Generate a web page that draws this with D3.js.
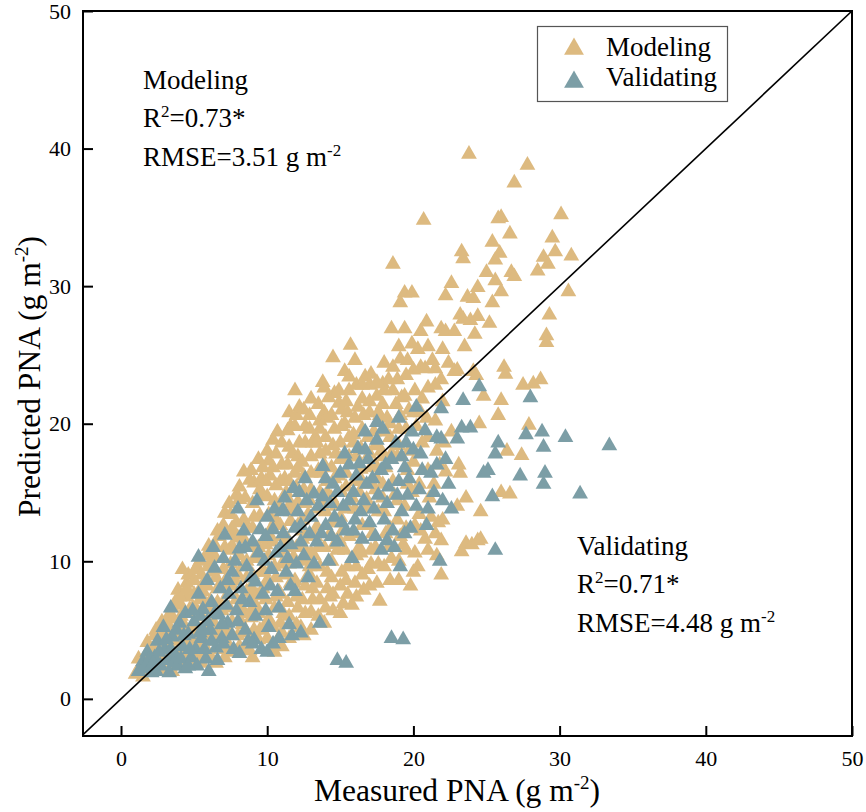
<!DOCTYPE html>
<html><head><meta charset="utf-8">
<script src="https://cdn.jsdelivr.net/npm/d3@7"></script>
<style>
body{margin:0;background:#fff;}
text{font-family:"Liberation Serif","Times New Roman",serif;fill:#000;}
</style>
</head><body>
<svg id="chart" width="866" height="812"></svg>
<script>
const xTicks = [0, 10, 20, 30, 40, 50];
const yTicks = [0, 10, 20, 30, 40, 50];
const seriesNames = ["Modeling", "Validating"];

const modeling = [
[1.0,1.8],[1.3,2.3],[1.6,3.0],[1.2,2.9],[1.9,2.1],[2.2,3.6],[2.5,2.5],[1.8,4.1],[2.7,4.4],[2.9,3.1],[2.4,5.0],[3.0,2.0],[1.5,1.6],[2.0,3.2],[2.8,5.6],[3.1,4.8],
[2.3,4.6],[3.2,3.4],[3.6,5.8],[2.6,3.5],
[3.3,6.1],[3.5,3.5],[3.7,7.0],[3.9,7.9],[4.0,2.6],[4.2,5.4],[4.4,4.2],[4.5,8.4],[4.7,6.5],[4.8,3.0],[3.4,5.0],[3.8,4.5],[4.1,6.8],[4.6,9.0],[5.0,7.6],[5.0,5.1],[3.6,2.4],[4.3,3.4],[4.9,2.5],
[4.5,7.4],[5.2,6.4],[5.6,3.1],[4.2,9.4],[5.8,6.9],[4.9,4.2],
[5.2,9.6],[5.3,3.8],[5.5,6.0],[5.6,8.3],[5.8,10.4],[5.9,4.6],[6.0,11.1],[6.1,7.1],[6.2,2.9],[6.3,9.2],[6.4,5.4],[6.6,8.0],[6.7,11.8],[6.8,3.6],[6.9,6.4],[5.4,7.2],[5.7,5.3],[6.5,10.2],[7.0,9.4],[7.0,12.6],[6.0,3.3],[5.1,4.2],
[6.3,6.6],[7.2,8.7],[6.6,4.5],[7.4,5.0],[6.1,9.9],[7.6,11.1],[7.1,13.5],
[7.2,4.2],[7.3,7.6],[7.4,10.8],[7.5,13.4],[7.6,5.6],[7.8,8.6],[7.9,14.8],[8.0,11.7],[8.1,3.8],[8.2,6.7],[8.3,9.6],[8.4,13.0],[8.5,4.8],[8.6,7.8],[8.7,11.0],[8.8,15.9],[8.9,5.9],[9.0,9.0],[9.0,12.4],[9.0,14.2],[7.7,12.0],[8.4,16.5],[7.1,3.0],[8.8,3.5],
[8.1,14.5],[8.6,10.0],[9.3,7.5],[9.8,9.2],[8.3,5.4],[9.6,14.8],[9.1,15.7],[8.9,8.1],
[9.2,6.8],[9.3,10.4],[9.4,4.3],[9.5,13.3],[9.6,16.0],[9.7,8.0],[9.8,11.6],[9.9,5.4],[10.0,14.7],[10.1,17.3],[10.2,9.4],[10.3,3.8],[10.4,12.6],[10.4,18.8],[10.5,6.6],[10.6,15.5],[10.7,10.6],[10.8,7.8],[10.9,13.8],[11.0,17.0],[11.0,4.8],[9.4,17.4],[10.2,16.2],[11.0,11.8],
[10.1,12.0],[10.6,8.8],[11.3,11.0],[11.6,14.2],[10.9,5.5],[11.8,8.4],[11.2,16.0],[10.7,19.4],[11.5,18.3],
[11.2,9.0],[11.3,15.0],[11.4,19.5],[11.5,6.0],[11.6,12.9],[11.7,17.8],[11.8,10.3],[11.9,22.4],[12.0,7.4],[12.1,14.3],[12.2,18.6],[12.3,5.2],[12.4,11.6],[12.5,16.2],[12.6,19.8],[12.7,8.8],[12.8,13.4],[12.9,20.6],[13.0,6.3],[13.0,15.2],[13.0,17.6],[11.5,20.8],[12.2,21.2],[11.9,16.4],[12.5,10.0],
[12.4,13.0],[12.9,9.6],[13.3,11.8],[12.1,16.8],[13.6,17.8],[13.1,8.0],[12.6,6.2],[13.9,20.8],
[13.2,10.4],[13.3,19.0],[13.4,12.5],[13.5,21.4],[13.6,19.6],[13.6,7.2],[13.7,16.4],[13.8,14.2],[13.9,5.5],[14.0,18.0],[14.1,9.2],[14.2,21.9],[14.3,12.0],[14.4,16.8],[14.5,6.4],[14.6,19.6],[14.7,14.0],[14.8,10.8],[14.9,21.5],[15.0,17.4],[15.0,8.2],[15.3,23.8],[14.5,24.8],[13.8,23.0],[14.3,7.4],
[14.1,15.0],[14.7,17.8],[15.3,10.8],[15.8,14.6],[14.4,8.8],[15.6,19.0],[15.1,21.0],[14.9,12.8],
[15.2,12.3],[15.3,20.0],[15.4,15.4],[15.5,9.6],[15.6,22.4],[15.7,25.7],[15.8,6.8],[15.9,18.6],[16.0,13.8],[16.1,7.4],[16.2,21.2],[16.3,11.0],[16.4,16.7],[16.5,19.6],[16.6,7.9],[16.7,23.4],[16.8,14.5],[16.9,9.4],[17.0,20.8],[17.0,17.8],[17.0,22.8],[15.2,6.9],[16.0,24.6],[16.5,12.6],
[16.3,15.0],[16.9,12.6],[17.4,17.0],[17.1,10.8],[16.5,21.8],[17.7,20.6],[16.1,9.6],[17.9,15.6],
[17.2,12.0],[17.3,19.4],[17.4,15.2],[17.5,22.0],[17.6,9.8],[17.7,7.1],[17.8,18.0],[17.9,22.9],[18.0,13.6],[18.1,16.8],[18.2,20.4],[18.3,11.0],[18.4,8.6],[18.5,26.9],[18.6,24.1],[18.6,31.6],[18.7,14.8],[18.8,21.4],[18.9,17.6],[19.0,10.0],[19.1,24.7],[19.1,28.8],[19.4,29.5],[19.4,26.9],[19.0,19.6],[18.3,23.2],
[18.4,19.0],[19.2,21.9],[18.0,22.4],[19.7,18.0],[18.9,13.0],[19.3,11.2],
[19.5,23.5],[19.5,12.4],[19.6,15.6],[19.7,21.0],[19.8,8.2],[19.9,29.5],[20.0,23.9],[20.0,17.2],[20.1,10.6],[20.2,19.8],[20.3,25.4],[20.4,13.4],[20.5,24.1],[20.5,26.7],[20.6,21.8],[20.7,34.8],[20.8,24.0],[20.8,11.6],[20.9,27.4],[21.0,16.6],[21.0,19.0],[20.3,9.6],[21.0,22.6],
[21.2,13.2],[21.3,24.6],[21.5,20.2],[21.6,10.4],[21.7,12.8],[21.8,17.0],[21.9,26.9],[21.9,11.5],[21.9,9.0],[22.0,21.6],[22.2,26.7],[22.2,29.3],[22.2,16.5],[22.4,24.4],[22.6,30.2],[22.6,19.4],[22.8,23.8],[22.8,26.7],[23.0,23.9],[23.0,14.0],[21.5,22.8],
[23.1,17.0],[23.2,16.4],[23.2,27.9],[23.3,10.7],[23.3,32.5],[23.4,32.0],[23.4,27.6],[23.5,25.6],[23.6,14.6],[23.6,11.3],[23.7,29.2],[23.8,39.6],[23.9,27.5],[24.0,11.2],[24.1,29.1],[24.1,23.8],[24.2,26.5],[24.3,23.5],[24.4,29.9],[24.4,27.8],[24.4,11.5],[24.6,13.6],[24.6,11.6],[24.8,22.0],[25.0,31.0],[24.5,20.0],
[25.2,27.3],[25.4,33.2],[25.4,28.8],[25.6,30.4],[25.6,31.9],[25.8,34.9],[25.8,20.6],[25.9,32.4],[26.0,35.0],[26.0,29.6],[26.0,21.7],[26.0,15.0],[26.2,24.1],[26.3,23.6],[26.6,33.8],[26.6,14.9],[26.7,31.0],[26.9,37.5],[26.9,30.7],[26.4,18.0],
[27.4,17.7],[27.5,22.8],[27.8,38.8],[27.9,19.9],[28.2,22.9],[28.5,31.1],[28.7,23.2],[28.9,32.1],[29.1,26.4],[29.1,25.9],[29.2,31.6],[29.3,27.9],[29.5,33.5],[29.7,32.5],[30.1,35.2],[30.6,29.6],[30.8,32.2],
[3.0,2.8],[2.9,4.2],[3.1,5.6],[3.5,2.0],[3.4,3.0],[3.6,4.2],[3.5,6.6],[4.0,3.6],[3.9,4.8],[4.1,6.0],[4.0,7.4],
[4.5,2.8],[4.4,5.2],[4.6,6.2],[4.5,8.0],[5.0,3.2],[5.1,4.6],[4.9,6.6],[5.0,8.6],[5.1,9.4],
[5.5,2.6],[5.4,5.0],[5.6,7.8],[5.5,9.0],[5.4,10.0],[6.0,4.2],[6.1,6.0],[5.9,8.2],[6.0,9.6],[6.2,10.6],
[6.5,2.6],[6.4,4.8],[6.6,7.0],[6.5,8.8],[6.4,11.2],[6.6,12.2],[7.0,3.8],[7.1,5.2],[6.9,6.8],[7.0,8.2],[7.1,11.0],
[7.5,3.4],[7.4,6.6],[7.6,8.2],[7.5,9.8],[7.6,12.4],[7.4,14.2],[8.0,4.6],[8.1,5.8],[7.9,7.2],[8.0,9.0],[8.1,10.4],[7.9,12.8],[8.1,15.4],
[8.5,3.6],[8.4,6.2],[8.6,8.8],[8.4,11.6],[8.6,12.4],[8.5,14.6],[9.0,3.0],[9.1,5.0],[8.9,6.4],[9.0,7.6],[9.1,10.2],[8.9,11.2],[9.1,13.2],[8.9,16.6],
[9.5,5.0],[9.4,6.2],[9.6,9.2],[9.4,11.0],[9.5,15.2],[9.7,16.8],[10.0,4.4],[10.1,5.8],[9.9,7.2],[10.0,8.6],[10.1,10.4],[9.9,11.2],[10.1,13.4],[9.9,15.8],[10.0,18.0],
[10.5,3.4],[10.4,5.2],[10.6,7.4],[10.5,9.6],[10.4,11.4],[10.6,13.0],[10.5,14.4],[10.4,16.8],[10.6,17.8],
[11.0,3.8],[11.1,6.2],[10.9,7.6],[11.0,9.8],[11.1,10.8],[10.9,12.6],[11.1,14.6],[10.9,15.8],[11.0,18.6],
[11.5,4.4],[11.4,7.0],[11.6,8.4],[11.5,9.8],[11.4,11.6],[11.6,13.6],[11.5,15.8],[11.4,17.0],[11.6,19.8],
[12.0,5.4],[12.1,6.6],[11.9,8.6],[12.0,11.0],[12.1,12.6],[11.9,13.6],[12.0,15.4],[12.1,17.6],[11.9,19.8],[12.0,20.6],
[12.5,4.6],[12.4,7.2],[12.6,8.2],[12.5,11.0],[12.4,12.2],[12.6,14.2],[12.5,15.2],[12.4,17.2],[12.6,18.6],[12.5,21.0],
[13.0,5.0],[13.1,7.2],[12.9,9.0],[13.0,10.6],[13.1,11.8],[12.9,14.4],[13.0,16.4],[13.1,18.6],[12.9,19.6],[13.0,21.8],
[13.5,6.0],[13.4,8.4],[13.6,9.6],[13.5,11.0],[13.4,13.8],[13.6,15.0],[13.5,16.6],[13.4,18.6],[13.6,20.2],
[14.0,6.6],[14.1,8.0],[13.9,11.0],[14.0,13.6],[14.1,15.8],[13.9,17.0],[14.0,19.0],[14.1,20.4],[13.9,22.6],
[14.5,7.6],[14.4,10.0],[14.6,11.2],[14.5,12.8],[14.4,14.6],[14.6,16.0],[14.5,18.4],[14.4,20.6],[14.6,22.2],
[15.0,6.2],[15.1,9.2],[14.9,11.6],[15.0,13.2],[15.1,15.0],[14.9,16.2],[15.0,18.6],[15.1,19.8],[14.9,22.4],
[15.5,7.6],[15.4,8.6],[15.6,11.8],[15.5,13.8],[15.4,16.4],[15.6,17.6],[15.5,20.8],[15.4,21.6],[15.6,23.4],
[16.0,8.4],[16.1,10.4],[15.9,12.0],[16.0,15.8],[16.1,17.6],[15.9,19.2],[16.0,20.4],[16.1,22.8],
[16.5,9.0],[16.4,10.6],[16.6,13.8],[16.5,15.8],[16.4,18.2],[16.6,20.6],[16.5,22.8],
[17.0,8.2],[17.1,9.8],[16.9,14.0],[17.0,15.6],[17.1,16.8],[16.9,19.0],[17.0,21.6],[17.1,23.6],
[17.5,8.4],[17.4,11.0],[17.6,13.6],[17.5,16.0],[17.4,18.4],[17.6,20.8],[17.5,23.0],
[18.0,9.6],[18.1,12.0],[17.9,14.6],[18.0,17.6],[18.1,19.4],[17.9,21.4],[18.0,24.4],
[18.5,10.2],[18.4,12.4],[18.6,15.8],[18.5,17.8],[18.4,20.0],[18.6,22.4],
[19.0,8.6],[19.1,11.8],[18.9,14.4],[19.0,18.4],[19.1,20.6],[18.9,23.2],[19.0,25.6],
[19.5,10.8],[19.4,14.0],[19.6,16.6],[19.5,19.6],[19.4,22.0],[19.6,24.6],
[20.0,9.2],[20.1,12.6],[19.9,15.0],[20.0,20.8],[20.1,22.4],[19.9,25.8],
[20.5,12.2],[20.4,15.6],[20.6,18.6],[20.5,20.8],[21.0,10.8],[21.1,14.6],[20.9,20.4],[21.0,25.6],
[21.5,12.0],[21.4,15.6],[21.6,18.0],[21.5,24.0],[22.0,13.0],[22.1,18.6],[21.9,23.2],[22.0,25.4]
];

const validating = [
[1.2,2.0],[1.5,2.7],[1.8,3.4],[2.0,2.2],[2.3,3.0],[2.5,4.2],[2.9,5.2],[2.7,2.4],[3.0,3.6],[3.2,2.8],[3.4,6.6],[3.5,4.5],[3.7,3.2],[3.9,2.4],[4.0,5.5],[4.2,3.8],[4.4,2.2],[4.4,6.2],[4.6,4.7],[4.8,3.0],[2.1,1.9],[3.3,1.9],[1.6,2.3],
[5.0,5.6],[5.1,3.6],[5.3,10.3],[5.3,7.6],[5.5,4.4],[5.6,6.5],[5.8,2.9],[5.9,8.6],[6.0,2.0],[6.1,5.0],[6.2,7.0],[6.4,9.5],[6.5,3.7],[6.7,6.1],[6.8,8.0],[6.9,4.4],[7.0,10.2],[7.1,11.9],[5.4,6.0],[6.3,11.0],
[7.3,5.5],[7.4,7.6],[7.6,9.2],[7.7,3.6],[7.9,6.4],[8.1,3.3],[8.1,10.9],[8.2,8.0],[8.4,12.2],[8.5,5.0],[8.6,9.6],[8.8,7.0],[9.0,11.4],[9.1,4.3],[9.2,8.5],[9.5,12.3],[9.6,3.6],[9.8,10.0],[9.9,6.4],[10.0,13.2],[8.0,13.8],[9.3,14.4],
[10.2,8.2],[10.4,4.0],[10.4,12.3],[10.6,10.6],[10.8,6.6],[11.0,13.6],[11.1,12.0],[11.1,13.7],[11.3,9.2],[11.6,11.2],[11.7,4.6],[11.8,15.3],[11.9,7.8],[12.2,15.0],[12.3,12.6],[12.5,10.4],[12.7,14.4],[12.8,8.8],[13.0,13.2],[13.2,14.9],[13.4,11.4],[12.0,9.8],
[13.6,5.5],[13.8,14.7],[13.8,16.9],[14.0,12.6],[14.2,10.0],[14.5,15.6],[14.6,13.2],[14.8,2.8],[14.8,11.4],[15.4,2.6],[15.0,16.4],[15.2,14.0],[15.4,12.2],[15.6,17.0],[15.8,10.2],[15.9,15.0],[16.0,13.0],[16.2,18.2],[16.3,17.1],[16.5,11.6],[16.7,19.4],[16.7,18.1],[16.6,14.4],
[17.0,12.8],[17.2,16.0],[17.5,20.1],[17.5,18.8],[17.6,14.8],[17.8,10.8],[18.0,13.0],[18.1,17.0],[18.3,15.4],[18.5,4.4],[18.6,12.2],[18.8,18.6],[19.0,15.8],[19.1,9.6],[19.2,13.6],[19.3,4.3],[19.4,16.8],[19.5,18.6],[19.8,12.4],[20.0,18.1],[19.6,14.8],[18.2,11.5],
[20.4,15.2],[20.5,17.8],[20.8,19.5],[21.0,13.8],[21.2,16.4],[21.6,17.0],[21.8,10.0],[21.9,21.1],[21.9,18.9],[22.0,14.4],[22.4,15.6],[23.0,18.9],[23.3,19.7],[23.4,21.7],[23.9,19.7],[24.5,22.7],[24.8,16.4],[25.1,16.6],[25.4,14.7],[25.6,10.8],[25.6,17.8],[25.8,18.6],[27.3,16.2],[27.7,19.2],[28.0,21.9],[28.8,19.4],[28.9,18.3],[28.9,15.6],[29.0,16.4],[30.4,19.0],[31.4,14.9],[33.4,18.4],
[1.9,2.8],[2.4,2.0],[2.6,3.4],[3.1,4.3],[3.6,2.6],[3.8,5.0],[4.1,2.9],[4.3,4.6],[4.7,3.6],[4.9,6.4],[5.2,2.4],[5.4,4.8],[5.7,3.6],[5.9,5.6],[6.2,4.2],[6.4,6.2],[6.6,2.8],[6.9,5.4],[7.2,6.8],[7.3,8.6],[7.6,4.6],[7.8,10.0],[8.0,5.6],[8.3,7.2],[8.5,11.0],[8.7,4.2],[8.9,8.8],[9.2,6.0],[9.4,10.6],[9.7,7.6],[9.9,11.8],[10.1,5.2],[10.3,9.4],[10.5,13.8],[10.7,7.8],[10.9,11.0],[11.2,14.6],[11.4,10.2],[11.6,8.2],[11.9,12.4],[12.1,13.6],[12.3,11.4],[12.6,16.0],[12.9,12.0],[13.2,9.8],[13.5,14.0],[13.7,12.0],[14.0,16.0],[14.3,14.2],[14.4,11.8],[14.8,15.0],[15.1,12.8],[15.3,17.8],[15.6,14.4],[15.9,12.2],[16.1,16.2],[16.4,13.6],[16.8,15.6],[16.9,17.4],[17.3,13.8],[17.4,11.8],[17.8,16.6],[17.9,19.6],[18.2,14.2],[18.5,17.4],[18.7,11.0],[18.9,14.8],[19.2,17.6],[19.4,12.0],[19.7,16.0],[19.9,19.4],[20.2,14.0],[20.6,16.6],[20.9,12.6],[21.4,15.0],[21.6,19.0],[22.2,17.4],[22.6,13.8],[20.2,21.2],[19.0,20.4],
[9.0,4.0],[10.0,3.4],[10.8,4.4],[11.5,5.4],[12.3,4.8],[2.2,2.6],[3.4,3.6],[4.6,2.4],[5.6,5.0],[7.0,4.0]
];

const colors = {Modeling: "#DDBA80", Validating: "#7C9EA6"};

const svg = d3.select("#chart");
const L = 83, R = 852, T = 11, B = 736;
const x = d3.scaleLinear().domain([-2.6, 50]).range([L, R]);
const y = d3.scaleLinear().domain([-2.7, 50]).range([B, T]);

svg.append("defs").append("clipPath").attr("id", "clip")
  .append("rect").attr("x", L).attr("y", T).attr("width", R - L).attr("height", B - T);

const tri = d3.symbol(d3.symbolTriangle, 108);
const plot = svg.append("g").attr("clip-path", "url(#clip)");

plot.append("g").selectAll("path").data(modeling).join("path")
  .attr("d", tri).attr("transform", d => `translate(${x(d[0])},${y(d[1])})`)
  .attr("fill", colors.Modeling);
plot.append("g").selectAll("path").data(validating).join("path")
  .attr("d", tri).attr("transform", d => `translate(${x(d[0])},${y(d[1])})`)
  .attr("fill", colors.Validating);

plot.append("line")
  .attr("x1", x(-3)).attr("y1", y(-3)).attr("x2", x(50)).attr("y2", y(50))
  .attr("stroke", "#000").attr("stroke-width", 1.6);

const xAxis = svg.append("g").attr("transform", `translate(0,${B})`)
  .call(d3.axisBottom(x).tickValues(xTicks).tickSizeInner(-10).tickSizeOuter(0).tickPadding(14));
const yAxis = svg.append("g").attr("transform", `translate(${L},0)`)
  .call(d3.axisLeft(y).tickValues(yTicks).tickSizeInner(-10).tickSizeOuter(0).tickPadding(12));
[xAxis, yAxis].forEach(a => {
  a.select(".domain").remove();
  a.selectAll(".tick line").attr("stroke", "#000").attr("stroke-width", 2);
  a.selectAll(".tick text").style("font-family", '"Liberation Serif", serif').style("font-size", "22px").attr("fill", "#000");
});

svg.append("rect").attr("x", L).attr("y", T).attr("width", R - L).attr("height", B - T)
  .attr("fill", "none").attr("stroke", "#000").attr("stroke-width", 2);

const xt = svg.append("text").attr("x", 457).attr("y", 801).attr("text-anchor", "middle").style("font-size", "31.5px");
xt.append("tspan").text("Measured PNA (g m");
xt.append("tspan").attr("dy", -12).style("font-size", "19px").text("-2");
xt.append("tspan").attr("dy", 12).text(")");

const yt = svg.append("text").attr("transform", `translate(40,${(T + B) / 2 + 3}) rotate(-90)`).attr("text-anchor", "middle").style("font-size", "31.5px");
yt.append("tspan").text("Predicted PNA (g m");
yt.append("tspan").attr("dy", -12).style("font-size", "19px").text("-2");
yt.append("tspan").attr("dy", 12).text(")");

function stats(x0, y0, name, r2, rmse) {
  const g = svg.append("g").style("font-size", "27px");
  g.append("text").attr("x", x0).attr("y", y0).text(name);
  const t2 = g.append("text").attr("x", x0).attr("y", y0 + 38);
  t2.append("tspan").text("R");
  t2.append("tspan").attr("dy", -10).style("font-size", "17px").text("2");
  t2.append("tspan").attr("dy", 10).text("=" + r2 + "*");
  const t3 = g.append("text").attr("x", x0).attr("y", y0 + 77);
  t3.append("tspan").text("RMSE=" + rmse + " g m");
  t3.append("tspan").attr("dy", -10).style("font-size", "17px").text("-2");
}
stats(143, 89, "Modeling", "0.73", "3.51");
stats(577, 555, "Validating", "0.71", "4.48");

svg.append("rect").attr("x", 537.5).attr("y", 26.5).attr("width", 190).attr("height", 75)
  .attr("fill", "#fff").attr("stroke", "#555").attr("stroke-width", 1.2);
seriesNames.forEach((n, i) => {
  svg.append("path").attr("d", d3.symbol(d3.symbolTriangle, 170)).attr("transform", `translate(574,${49 + i * 33})`).attr("fill", colors[n]);
  svg.append("text").attr("x", 606).attr("y", 56 + i * 30).style("font-size", "27px").text(n);
});
</script>
</body></html>
